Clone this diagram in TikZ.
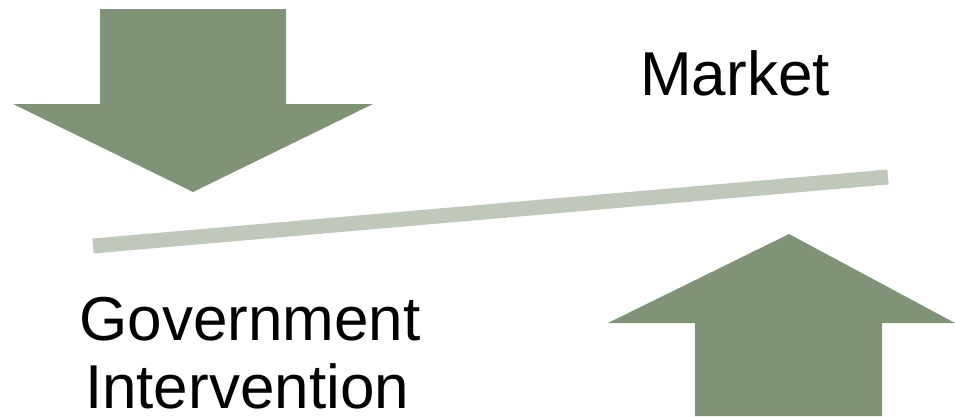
\documentclass[tikz,border=0pt]{standalone}
\usepackage{fontspec}
\setmainfont{Liberation Sans}
\usepackage{tikz}
\usetikzlibrary{positioning}
\definecolor{arrowgreen}{HTML}{7F9477}
\definecolor{beamgrey}{HTML}{C0C8BC}
\tikzset{
  bigarrow/.style={fill=arrowgreen, draw=none},
  beam/.style={draw=beamgrey, line width=15pt, line cap=butt},
  label/.style={inner sep=0pt, anchor=base, text depth=0pt,
                font=\fontsize{62}{68}\selectfont},
}

\begin{document}
\begin{tikzpicture}[x=1pt, y=-1pt]
  \useasboundingbox (0,0) rectangle (955,416);

  % --- Arrows ---
  \fill[bigarrow] (100,9) -- (286,9) -- (286,104) -- (373,104)
    -- (193,192) -- (13,104) -- (100,104) -- cycle;
  \fill[bigarrow] (695,416) -- (882,416) -- (882,323) -- (955,323)
    -- (789,234) -- (608,323) -- (695,323) -- cycle;

  % --- Beam ---
  \coordinate (beamL) at (93,246);
  \coordinate (beamR) at (888,177);
  \draw[beam] (beamL) -- (beamR);

  % --- Labels ---
  \node[label] (market) at (735,95) {Market};
  \node[label] (govt)   at (250,340) {Government};
  \node[label] (interv) at (247,408) {Intervention};

\end{tikzpicture}
\end{document}
